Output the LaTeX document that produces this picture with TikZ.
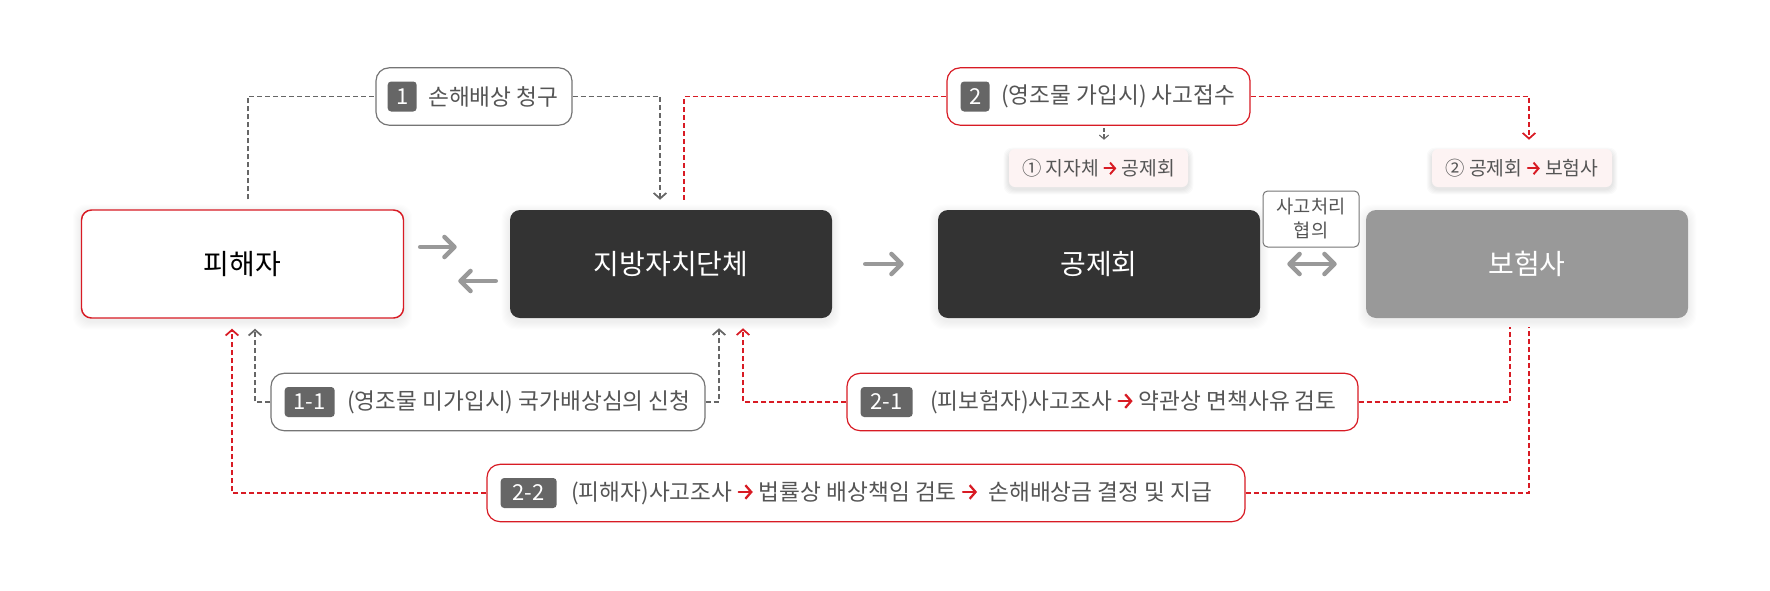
\documentclass[tikz,border=0pt]{standalone}
\usepackage{fontspec}
\setmainfont{Noto Sans CJK KR}
\usetikzlibrary{arrows.meta,calc,backgrounds}
\definecolor{rd}{HTML}{D81B24}
\definecolor{dk}{HTML}{333333}
\definecolor{gr}{HTML}{999999}
\definecolor{dg}{HTML}{666666}
\definecolor{tx}{HTML}{555555}
\definecolor{pk}{HTML}{FDF3F3}
\newcommand{\rarr}{\tikz[baseline=-0.36em]\draw[rd,line width=0.1em,line cap=round,line join=round,-{Straight Barb[length=0.26em,width=0.6em]}] (0pt,0pt)--(0.62em,0pt);}
\begin{document}
\begin{tikzpicture}[x=0.75pt,y=-0.75pt,
  mainbox/.style={rounded corners=7.5pt, minimum width=241.5pt, minimum height=81pt, inner sep=0pt, font=\fontsize{21}{25}\selectfont},
  lblbox/.style={draw=#1, line width=0.9pt, rounded corners=9.75pt, fill=white, minimum height=43pt, inner sep=0pt},
  badge/.style={fill=dg, text=white, rounded corners=2.6pt, minimum height=22.5pt, minimum width=#1, inner sep=0pt, anchor=west, font=\fontsize{16.5}{18}\selectfont},
  ltext/.style={text=tx, inner sep=0pt, anchor=west, font=\fontsize{17}{20}\selectfont},
  sbox/.style={fill=pk, rounded corners=4.5pt, minimum height=28.5pt, minimum width=#1, inner sep=0pt, text=tx, font=\fontsize{14.5}{17}\selectfont},
  talkbox/.style={draw=dg!90, line width=0.75pt, rounded corners=3.5pt, fill=white, minimum width=72pt, minimum height=42pt, inner sep=0pt, align=center, text=tx, font=\fontsize{14}{18}\selectfont},
  gdash/.style={draw=dg, line width=1.3pt, dash pattern=on 3.8pt off 2.2pt},
  rdash/.style={draw=rd, line width=1.3pt, dash pattern=on 3.8pt off 2.2pt},
  dtip/.style={-{Straight Barb[length=4.2pt,width=9.5pt]}},
  bigarr/.style={draw=gr, line width=3.4pt, line cap=round, -{Straight Barb[length=7.5pt,width=15pt,round]}},
  bigdbl/.style={draw=gr, line width=3.4pt, line cap=round, {Straight Barb[length=7.5pt,width=15pt,round]}-{Straight Barb[length=7.5pt,width=15pt,round]}},
  shade/.style={fill=black, opacity=#1}
]
\useasboundingbox (0,0) rectangle (1770,590);

% main boxes
\node[mainbox, draw=rd, line width=1.1pt, fill=white, text=black] (v) at (242.5,264) {피해자};
\node[mainbox, fill=dk, text=white] (g) at (671,264) {지방자치단체};
\node[mainbox, fill=dk, text=white] (k) at (1099,264) {공제회};
\node[mainbox, fill=gr, text=white] (i) at (1527,264) {보험사};

% label boxes
\node[lblbox=dg!90, minimum width=147pt] (l1) at (474,96.5) {};
\node[badge=21.75pt] (b1) at ($(l1.west)+(12,0)$) {1};
\node[ltext] (t1) at ($(b1.east)+(11,0)$) {손해배상 청구};

\node[lblbox=rd, minimum width=227.25pt] (l2) at (1098.5,96.5) {};
\node[badge=21.75pt] (b2) at ($(l2.west)+(14,0)$) {2};
\node[ltext] (t2) at ($(b2.east)+(11,0)$) {(영조물 가입시) 사고접수};

\node[lblbox=dg!90, minimum width=325.5pt] (l11) at (488,402) {};
\node[badge=37.5pt] (b11) at ($(l11.west)+(14,0)$) {1-1};
\node[ltext] (t11) at ($(b11.east)+(12,0)$) {(영조물 미가입시) 국가배상심의 신청};

\node[lblbox=rd, minimum width=383.25pt] (l21) at (1102.5,402) {};
\node[badge=39pt] (b21) at ($(l21.west)+(14,0)$) {2-1};
\node[ltext] (t21) at ($(b21.east)+(17,0)$) {(피보험자)사고조사 \rarr{} 약관상 면책사유 검토};

\node[lblbox=rd, minimum width=568.5pt] (l22) at (866,493) {};
\node[badge=42pt] (b22) at ($(l22.west)+(14,0)$) {2-2};
\node[ltext] (t22) at ($(b22.east)+(14,0)$) {(피해자)사고조사 \rarr{} 법률상 배상책임 검토 \rarr{}\ \ 손해배상금 결정 및 지급};

% small boxes
\node[sbox=134.25pt] (c1) at (1098.5,168) {① 지자체 \rarr{} 공제회};
\node[sbox=135pt] (c2) at (1522,168) {② 공제회 \rarr{} 보험사};
\node[talkbox] (tk) at (1311,219) {사고처리\\협의};

% soft shadows
\begin{pgfonlayer}{background}
\foreach \n in {c1,c2} {
  \foreach \s in {1,...,5} {
    \fill[shade=0.018, rounded corners=6pt] ($(\n.south west)+(-\s,\s+2)$) rectangle ($(\n.north east)+(\s,-\s+4)$);
  }
}
\foreach \n in {v,g,k,i} {
  \foreach \s in {1,...,8} {
    \fill[shade=0.006, rounded corners=10pt] ($(\n.south west)+(-\s,\s+3)$) rectangle ($(\n.north east)+(\s,-\s+3)$);
  }
}
\end{pgfonlayer}

% top connectors
\coordinate (v1) at ($(v.north)+(5.5,-10)$);
\coordinate (g1) at ($(g.north)+(-11,-10)$);
\draw[gdash] (v1) |- (l1.west);
\draw[gdash, dtip] (l1.east) -| (g1);
\coordinate (g2) at ($(g.north)+(13,-10)$);
\coordinate (i2) at ($(c2.north)+(7,-9)$);
\draw[rdash] (g2) |- (l2.west);
\draw[rdash, dtip] (l2.east) -| (i2);
\coordinate (c1a) at ($(c1.north)+(5.5,-9)$);
\draw[draw=dg, line width=0.8pt, dash pattern=on 3pt off 2pt, -{Straight Barb[length=3pt,width=7pt]}] ($(l2.south)+(5.5,2)$) -- (c1a);

% bottom connectors
\coordinate (v2) at ($(v.south)+(-10.5,10)$);
\coordinate (v3) at ($(v.south)+(12.5,10)$);
\coordinate (g3) at ($(g.south)+(48,10)$);
\coordinate (g4) at ($(g.south)+(72,10)$);
\coordinate (i3) at ($(i.south)+(-17,9)$);
\coordinate (i4) at ($(i.south)+(2,9)$);
\draw[rdash, dtip] (l22.west) -| (v2);
\draw[gdash, dtip] (l11.west) -| (v3);
\draw[gdash, dtip] (l11.east) -| (g3);
\draw[rdash, dtip] (l21.west) -| (g4);
\draw[rdash] (l21.east) -| (i3);
\draw[rdash] (l22.east) -| (i4);

% thick arrows
\draw[bigarr] ($(v.east)+(16,-17)$) -- ($(g.west)+(-53,-17)$);
\draw[bigarr] ($(g.west)+(-14,17)$) -- ($(v.east)+(54,17)$);
\draw[bigarr] ($(g.east)+(33,0)$) -- ($(k.west)+(-34,0)$);
\draw[bigdbl] ($(k.east)+(27,0)$) -- ($(i.west)+(-29,0)$);
\end{tikzpicture}
\end{document}
